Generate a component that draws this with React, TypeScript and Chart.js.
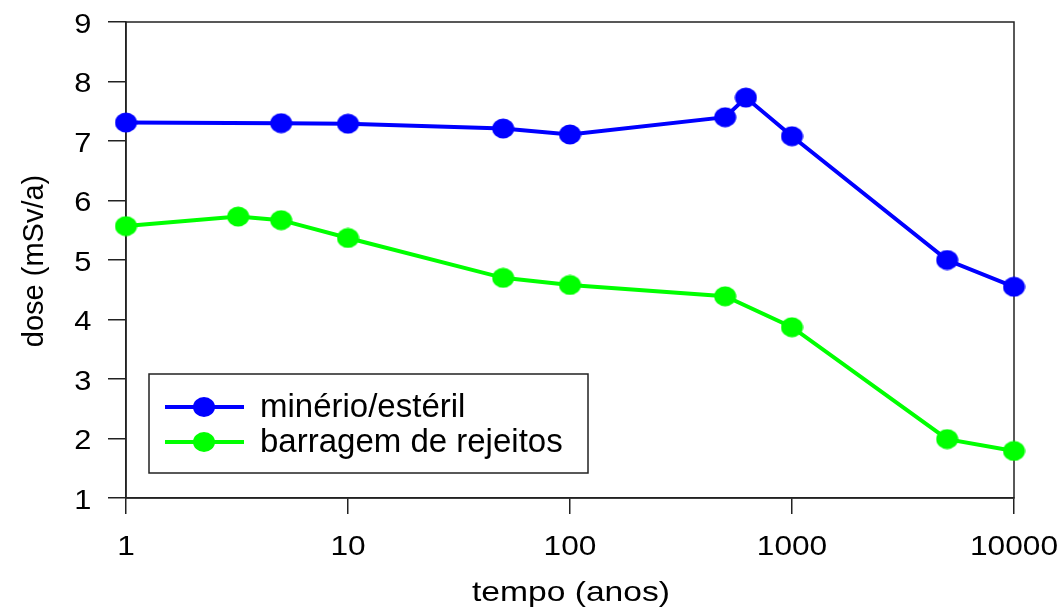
import React, { useEffect, useRef } from "react";
import { Chart, registerables } from "chart.js";

Chart.register(...registerables);

// Time (years) and annual dose (mSv/a) for each exposure scenario
const mineralTime = [1, 5, 10, 50, 100, 500, 620, 1000, 5000, 10000];
const mineralDose = [7.31, 7.3, 7.29, 7.21, 7.11, 7.4, 7.73, 7.08, 5.0, 4.55];

const tailingsTime = [1, 3.2, 5, 10, 50, 100, 500, 1000, 5000, 10000];
const tailingsDose = [5.57, 5.73, 5.67, 5.37, 4.7, 4.58, 4.39, 3.87, 1.99, 1.79];

const xTicks = [1, 10, 100, 1000, 10000];
const yTicks = [1, 2, 3, 4, 5, 6, 7, 8, 9];
const seriesLabels = ["minério/estéril", "barragem de rejeitos"];
const seriesColors = ["#0000ff", "#00ff00"];
const xTitle = "tempo (anos)";
const yTitle = "dose (mSv/a)";

const FONT = "'Liberation Sans', Arial, Helvetica, sans-serif";
const FRAME = "#222";

const toPoints = (xs: number[], ys: number[]) => xs.map((x, i) => ({ x, y: ys[i] }));

// Slightly oval marker
function makeMarker(color: string) {
  const c = document.createElement("canvas");
  c.width = 23;
  c.height = 21;
  const g = c.getContext("2d")!;
  g.fillStyle = color;
  g.beginPath();
  g.ellipse(11.5, 10.5, 11, 10, 0, 0, Math.PI * 2);
  g.fill();
  return c;
}

function drawText(
  ctx: CanvasRenderingContext2D,
  text: string,
  x: number,
  y: number,
  size: number,
  sx: number,
  align: CanvasTextAlign
) {
  ctx.save();
  ctx.translate(x, y);
  ctx.scale(sx, 1);
  ctx.font = `${size}px ${FONT}`;
  ctx.fillStyle = "#000";
  ctx.textAlign = align;
  ctx.textBaseline = "alphabetic";
  ctx.fillText(text, 0, 0);
  ctx.restore();
}

// Box around the plot area, drawn beneath the series
const framePlugin = {
  id: "frame",
  beforeDatasetsDraw(chart: any) {
    const { ctx, chartArea: a } = chart;
    ctx.save();
    ctx.strokeStyle = FRAME;
    ctx.lineWidth = 1.5;
    ctx.strokeRect(a.left, a.top, a.right - a.left, a.bottom - a.top);
    ctx.restore();
  },
};

// Tick labels and axis titles
const labelsPlugin = {
  id: "axisLabels",
  afterDraw(chart: any) {
    const { ctx, chartArea: a } = chart;
    const xs = chart.scales.x;
    const ys = chart.scales.y;
    xTicks.forEach((v) => {
      drawText(ctx, String(v), xs.getPixelForValue(v), a.bottom + 57, 28, 1.13, "center");
    });
    yTicks.forEach((v) => {
      drawText(ctx, String(v), a.left - 34.5, ys.getPixelForValue(v) + 10.5, 28, 1.1, "right");
    });
    drawText(ctx, xTitle, (a.left + a.right) / 2 + 1, a.bottom + 103, 28, 1.2, "center");
    ctx.save();
    ctx.translate(43, (a.top + a.bottom) / 2 + 1);
    ctx.rotate(-Math.PI / 2);
    ctx.font = `29px ${FONT}`;
    ctx.fillStyle = "#000";
    ctx.textAlign = "center";
    ctx.textBaseline = "alphabetic";
    ctx.fillText(yTitle, 0, 0);
    ctx.restore();
  },
};

// Boxed legend inside the lower-left part of the plot
const legendPlugin = {
  id: "boxLegend",
  afterDraw(chart: any) {
    const { ctx, chartArea: a } = chart;
    const left = a.left + 23;
    const top = a.top + 352;
    const w = 439;
    const h = 99;
    ctx.save();
    ctx.fillStyle = "#fff";
    ctx.fillRect(left, top, w, h);
    ctx.strokeStyle = FRAME;
    ctx.lineWidth = 1.5;
    ctx.strokeRect(left, top, w, h);
    chart.data.datasets.forEach((ds: any, i: number) => {
      const y = top + 33 + i * 35;
      ctx.strokeStyle = ds.borderColor;
      ctx.lineWidth = 4;
      ctx.beginPath();
      ctx.moveTo(left + 16, y);
      ctx.lineTo(left + 95, y);
      ctx.stroke();
      ctx.fillStyle = ds.backgroundColor;
      ctx.beginPath();
      ctx.ellipse(left + 55, y, 11, 10, 0, 0, Math.PI * 2);
      ctx.fill();
      drawText(ctx, ds.label, left + 111, y + 10, 33, 1, "left");
    });
    ctx.restore();
  },
};

export default function App() {
  const canvasRef = useRef<HTMLCanvasElement | null>(null);

  useEffect(() => {
    const canvas = canvasRef.current;
    if (!canvas) return;
    const series = [
      { label: seriesLabels[0], xs: mineralTime, ys: mineralDose, color: seriesColors[0] },
      { label: seriesLabels[1], xs: tailingsTime, ys: tailingsDose, color: seriesColors[1] },
    ];
    const chart = new Chart(canvas, {
      type: "line",
      data: {
        datasets: series.map((s) => ({
          label: s.label,
          data: toPoints(s.xs, s.ys),
          borderColor: s.color,
          backgroundColor: s.color,
          borderWidth: 4,
          pointStyle: makeMarker(s.color) as any,
          pointRadius: 10,
          pointHoverRadius: 10,
          clip: false as any,
        })),
      },
      options: {
        responsive: false,
        animation: false,
        layout: { padding: { top: 22, right: 50, left: 0, bottom: 0 } },
        plugins: {
          legend: { display: false },
          tooltip: { enabled: false },
        },
        scales: {
          x: {
            type: "logarithmic",
            min: 1,
            max: 10000,
            afterBuildTicks: (scale: any) => {
              scale.ticks = xTicks.map((v) => ({ value: v }));
            },
            afterFit: (scale: any) => {
              scale.height = 115;
            },
            ticks: { display: false, autoSkip: false },
            grid: {
              drawOnChartArea: false,
              drawTicks: true,
              tickLength: 16,
              color: FRAME,
              lineWidth: 1.5,
            },
            border: { display: true, color: FRAME, width: 1.5 },
            title: { display: false },
          },
          y: {
            type: "linear",
            min: 1,
            max: 9,
            afterBuildTicks: (scale: any) => {
              scale.ticks = yTicks.map((v) => ({ value: v }));
            },
            afterFit: (scale: any) => {
              scale.width = 126;
            },
            ticks: { display: false },
            grid: {
              drawOnChartArea: false,
              drawTicks: true,
              tickLength: 18,
              color: FRAME,
              lineWidth: 1.5,
            },
            border: { display: true, color: FRAME, width: 1.5 },
            title: { display: false },
          },
        },
      },
      plugins: [framePlugin, labelsPlugin, legendPlugin],
    });
    return () => chart.destroy();
  }, []);

  return (
    <div style={{ position: "fixed", left: 0, top: 0, width: 1064, height: 613, background: "#fff" }}>
      <canvas ref={canvasRef} width={1064} height={613} />
    </div>
  );
}
